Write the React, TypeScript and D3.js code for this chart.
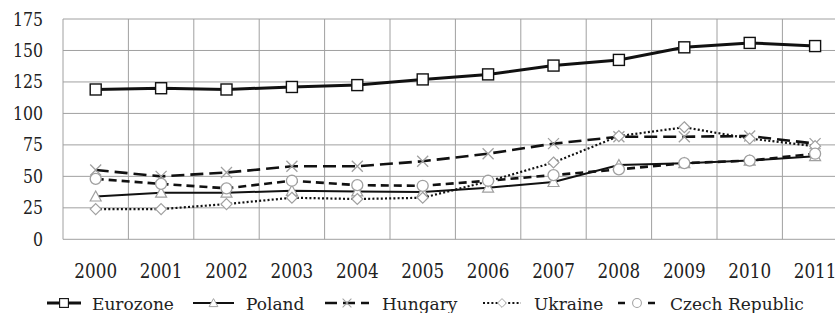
import React from 'react';
import * as d3 from 'd3';

const years = ['2000', '2001', '2002', '2003', '2004', '2005', '2006', '2007', '2008', '2009', '2010', '2011'];
const yTicks = [0, 25, 50, 75, 100, 125, 150, 175];

const eurozone = [119, 120, 119, 121, 122.5, 127, 131, 138, 142.5, 152.5, 156, 153.5];
const poland = [34, 37, 37, 38.5, 38, 37.5, 41, 45.5, 59, 60.5, 62.5, 66];
const hungary = [55, 50, 53, 58, 58, 62, 68, 76, 81.5, 81.5, 82, 76];
const ukraine = [24, 24, 28, 33, 32, 33, 46, 61, 82, 89, 80, 74];
const czech = [48, 44, 40.5, 46.5, 43, 42.5, 46.5, 51, 55.5, 60.5, 62.5, 68];

const seriesNames = ['Eurozone', 'Poland', 'Hungary', 'Ukraine', 'Czech Republic'];

const gray = '#a0a0a0';

type Style = { width: number; dash: string; marker: string };
const styles: Style[] = [
  { width: 3, dash: '', marker: 'square' },
  { width: 2, dash: '', marker: 'triangle' },
  { width: 2.6, dash: '13,6', marker: 'x' },
  { width: 2.2, dash: '2,2.2', marker: 'diamond' },
  { width: 2.6, dash: '8,5', marker: 'circle' },
];

// legend layout: symbol start, symbol end, text x
const legendPos = [
  [47, 81, 92],
  [193, 234, 246],
  [325, 369, 382],
  [483, 521, 534],
  [618, 656, 670],
];

function Marker({ kind, x, y }: { kind: string; x: number; y: number }) {
  if (kind === 'square')
    return <rect x={x - 5.5} y={y - 5.5} width={11} height={11} fill="#fff" stroke="#111" strokeWidth={1.4} />;
  if (kind === 'triangle')
    return (
      <path
        d={`M${x},${y - 5.5}L${x + 5.5},${y + 4.5}L${x - 5.5},${y + 4.5}Z`}
        fill="#fff"
        stroke={gray}
        strokeWidth={1.2}
      />
    );
  if (kind === 'x')
    return (
      <path
        d={`M${x - 5.5},${y - 5.5}L${x + 5.5},${y + 5.5}M${x + 5.5},${y - 5.5}L${x - 5.5},${y + 5.5}`}
        stroke={gray}
        strokeWidth={1.3}
      />
    );
  if (kind === 'diamond')
    return (
      <path
        d={`M${x},${y - 5.5}L${x + 5.5},${y}L${x},${y + 5.5}L${x - 5.5},${y}Z`}
        fill="#fff"
        stroke={gray}
        strokeWidth={1.2}
      />
    );
  return <circle cx={x} cy={y} r={5.5} fill="#fff" stroke={gray} strokeWidth={1.3} />;
}

export default function App() {
  const width = 835;
  const height = 313;
  const left = 63;
  const step = 65.4;
  const top = 19;
  const bottom = 239.3;

  const x = d3.scaleBand<string>().domain(years).range([left, left + step * years.length]);
  const y = d3.scaleLinear().domain([0, 175]).range([bottom, top]);
  const cx = (yr: string) => (x(yr) as number) + x.bandwidth() / 2;

  const data = [eurozone, poland, hungary, ukraine, czech];
  const line = d3
    .line<number>()
    .x((_, i) => cx(years[i]))
    .y(d => y(d));

  const right = left + step * years.length;

  return (
    <svg
      width={width}
      height={height}
      fontFamily="DejaVu Serif"
      fill="#222"
      style={{ position: 'absolute', left: 0, top: 0, background: '#fff' }}
    >
      {yTicks.map(t => (
        <line key={'h' + t} x1={left} x2={right} y1={y(t)} y2={y(t)} stroke={gray} strokeWidth={1} />
      ))}
      {years.map(yr => (
        <line key={'v' + yr} x1={x(yr)} x2={x(yr)} y1={top} y2={bottom} stroke={gray} strokeWidth={1} />
      ))}
      {yTicks.map(t => (
        <text
          key={'yl' + t}
          transform={`translate(43,${y(t) + 6.5}) scale(0.83,1)`}
          textAnchor="end"
          fontSize={19}
        >
          {t}
        </text>
      ))}
      {years.map(yr => (
        <text
          key={'xl' + yr}
          transform={`translate(${cx(yr)},277.5) scale(0.84,1)`}
          textAnchor="middle"
          fontSize={20}
        >
          {yr}
        </text>
      ))}
      {data.map((vals, si) => (
        <g key={'s' + si}>
          <path
            d={line(vals) || ''}
            fill="none"
            stroke="#111"
            strokeWidth={styles[si].width}
            strokeDasharray={styles[si].dash}
          />
          {vals.map((v, i) => (
            <Marker key={i} kind={styles[si].marker} x={cx(years[i])} y={y(v)} />
          ))}
        </g>
      ))}
      {seriesNames.map((name, si) => {
        const [s0, s1, tx] = legendPos[si];
        const ly = 303;
        const mid = (s0 + s1) / 2;
        return (
          <g key={'lg' + si}>
            <line
              x1={s0}
              x2={s1}
              y1={ly}
              y2={ly}
              stroke="#111"
              strokeWidth={styles[si].width}
              strokeDasharray={si === 2 ? '12,6' : si === 4 ? '7,8' : styles[si].dash}
            />
            <g transform={`translate(${mid},${ly}) scale(0.8) translate(${-mid},${-ly})`}>
              <Marker kind={styles[si].marker} x={mid} y={ly} />
            </g>
            <text x={tx} y={310} fontSize={17}>
              {name}
            </text>
          </g>
        );
      })}
    </svg>
  );
}
